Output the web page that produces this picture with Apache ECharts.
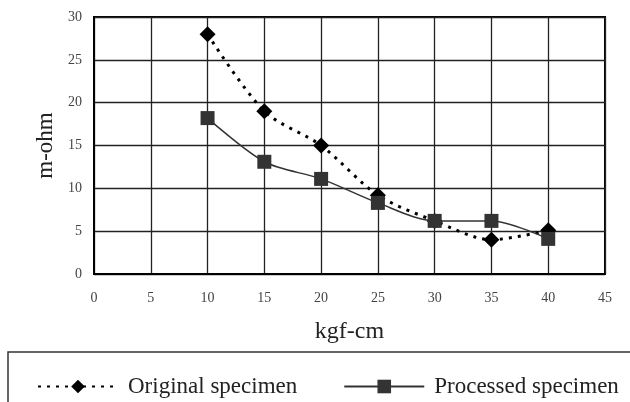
<!DOCTYPE html>
<html>
<head>
<meta charset="utf-8">
<script src="https://cdn.jsdelivr.net/npm/echarts@6/dist/echarts.min.js"></script>
<style>
  html, body { margin: 0; padding: 0; background: #fff; }
  #chart { width: 630px; height: 402px; }
</style>
</head>
<body>
<div id="chart"></div>
<script>
// Datos
var torque = [10, 15, 20, 25, 30, 35, 40];
var original = [28, 19, 15, 9.2, 6.2, 4.0, 5.1];
var processed = [18.2, 13.1, 11.1, 8.3, 6.2, 6.2, 4.1];
var seriesNames = ['Original specimen', 'Processed specimen'];

function pairs(xs, ys) {
  return xs.map(function (x, i) { return [x, ys[i]]; });
}

var serif = 'Liberation Serif';
var chart = echarts.init(document.getElementById('chart'));

var option = {
  backgroundColor: '#fff',
  animation: false,
  grid: {
    left: 94, right: 25, top: 17, bottom: 128,
    show: true, borderColor: '#000', borderWidth: 2
  },
  xAxis: {
    type: 'value', min: 0, max: 45, interval: 5,
    name: 'kgf-cm', nameLocation: 'middle', nameGap: 46,
    nameTextStyle: { fontFamily: serif, fontSize: 24, color: '#222' },
    axisLine: { show: true, lineStyle: { color: '#000', width: 2 } },
    axisTick: { show: false },
    axisLabel: { fontFamily: serif, fontSize: 14, color: '#444', margin: 17 },
    splitLine: { show: true, lineStyle: { color: '#222', width: 1.3 } }
  },
  yAxis: {
    type: 'value', min: 0, max: 30, interval: 5,
    name: 'm-ohm', nameLocation: 'middle', nameGap: 33, nameRotate: 90,
    nameTextStyle: { fontFamily: serif, fontSize: 23, color: '#222' },
    axisLine: { show: true, lineStyle: { color: '#000', width: 2 } },
    axisTick: { show: false },
    axisLabel: { fontFamily: serif, fontSize: 14, color: '#444', margin: 12 },
    splitLine: { show: true, lineStyle: { color: '#222', width: 1.3 } }
  },
  legend: {
    left: 32, top: 370,
    itemWidth: 80, itemHeight: 17, itemGap: 46,
    textStyle: { fontFamily: serif, fontSize: 23, color: '#222', padding: [0, 0, 0, 5] },
    data: seriesNames
  },
  graphic: [{
    type: 'rect', silent: true, z: -1,
    shape: { x: 8, y: 352, width: 640, height: 70 },
    style: { fill: 'none', stroke: '#333', lineWidth: 1.5 }
  }],
  series: [
    {
      name: seriesNames[0], type: 'line', smooth: 0.3,
      data: pairs(torque, original),
      symbol: 'diamond', symbolSize: 16,
      itemStyle: { color: '#000' },
      lineStyle: { color: '#000', width: 3, type: [3, 6] },
      z: 2
    },
    {
      name: seriesNames[1], type: 'line', smooth: 0.3,
      data: pairs(torque, processed),
      symbol: 'rect', symbolSize: 14,
      itemStyle: { color: '#333' },
      lineStyle: { color: '#333', width: 1.5 },
      z: 3
    }
  ]
};

chart.setOption(option);
</script>
</body>
</html>
